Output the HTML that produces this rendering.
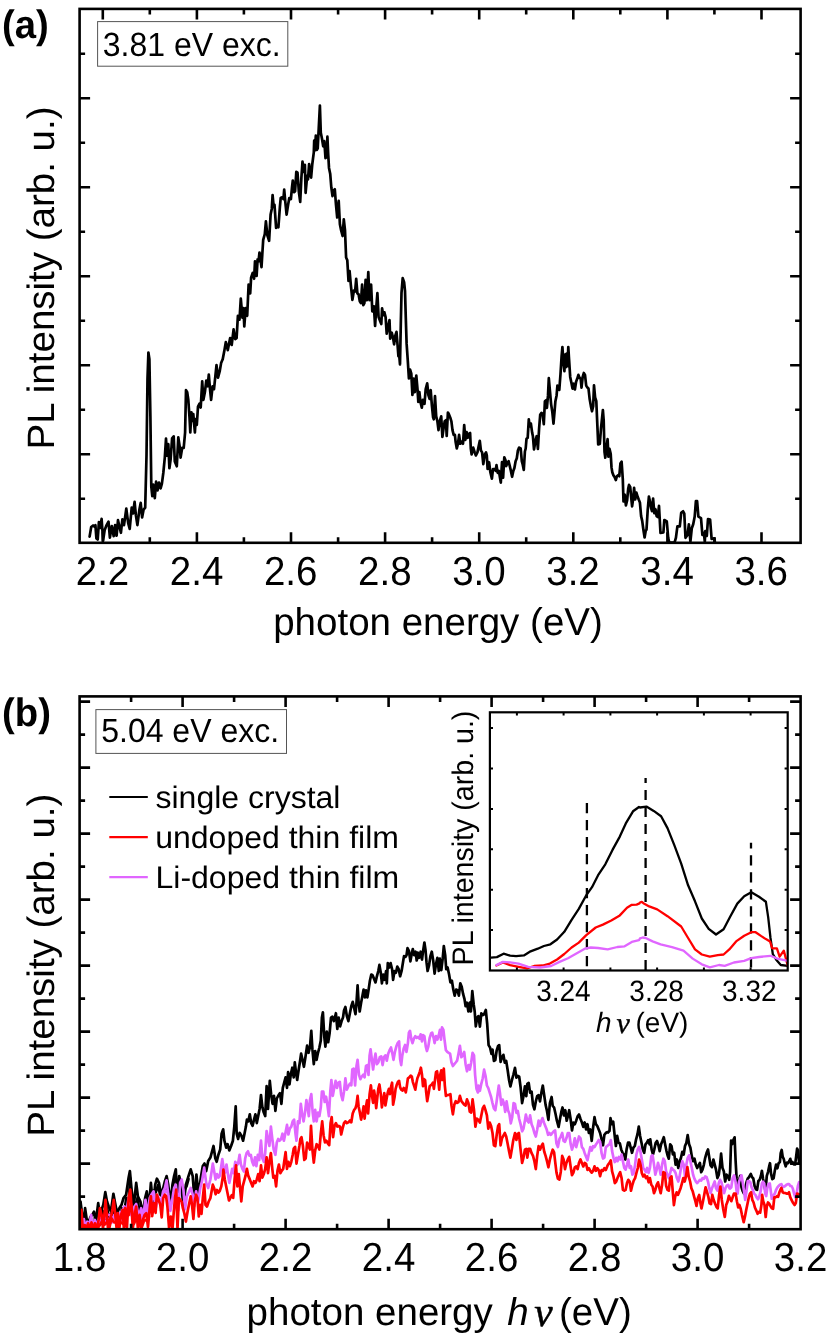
<!DOCTYPE html>
<html><head><meta charset="utf-8"><title>PL spectra</title>
<style>
html,body{margin:0;padding:0;background:#fff;}
svg{display:block;will-change:transform}
text{font-family:"Liberation Sans",sans-serif;fill:#000;text-rendering:geometricPrecision}
.t{font-size:38.5px}
.m{font-size:32px}
.s{font-size:28px}
.b{font-size:38.3px;font-weight:bold}
.i{font-style:italic}
.nu{font-family:"Liberation Serif",serif;font-style:italic}
.ax{stroke:#000;stroke-width:2.6;fill:none;stroke-linecap:butt}
.c{fill:none;stroke-linejoin:round;stroke-linecap:round}
</style></head><body>
<svg width="830" height="1336" viewBox="0 0 830 1336">
<rect width="830" height="1336" fill="#fff"/>
<defs><clipPath id="ca"><rect x="79.6" y="8.9" width="721.0" height="533.9"/></clipPath><clipPath id="cb"><rect x="79.6" y="696.4" width="721.0" height="532.8000000000001"/></clipPath><clipPath id="ci"><rect x="489.9" y="712.3" width="297.80000000000007" height="258.20000000000005"/></clipPath></defs>
<polyline class="c" points="89.6,536.6 91.2,527.0 93.1,525.5 94.5,526.6 95.4,525.1 96.4,538.5 97.7,539.5 98.9,522.2 100.2,528.0 101.6,518.9 103.1,540.5 104.7,529.9 106.6,525.1 108.5,521.6 109.9,537.6 111.8,526.0 113.7,536.2 115.1,525.1 116.6,535.7 118.0,520.2 119.5,527.0 120.9,532.8 122.4,519.3 124.0,525.1 126.3,508.7 128.2,523.1 129.7,528.9 131.7,507.7 133.0,513.5 134.6,501.9 135.9,515.4 137.4,525.1 139.4,509.6 140.7,502.9 142.1,517.4 143.6,509.6 145.2,507.7 146.5,455.7 147.5,378.6 148.4,352.5 149.4,359.3 150.4,417.1 151.3,486.5 152.3,496.1 153.2,484.6 154.8,498.1 156.1,481.7 157.5,490.4 159.0,482.6 160.6,488.4 161.9,483.6 163.3,473.0 164.8,457.6 166.0,438.7 167.1,455.7 168.3,444.1 169.4,468.2 170.6,459.5 172.1,438.3 173.7,436.4 174.8,461.4 176.8,466.3 178.3,437.4 179.9,447.9 180.6,457.6 182.2,447.9 183.7,447.9 185.1,432.5 186.0,390.1 187.2,392.1 188.3,399.8 189.5,417.1 190.3,432.5 191.4,412.3 192.6,421.0 193.3,414.2 194.9,432.5 195.7,419.0 196.8,424.8 198.0,406.5 199.5,403.6 200.7,407.5 202.2,381.4 203.4,399.8 204.9,392.1 206.3,380.5 207.6,386.3 208.8,374.7 210.1,390.1 211.1,399.8 212.6,386.3 214.0,389.2 216.5,365.1 218.0,377.6 219.8,370.8 221.1,363.1 222.7,359.3 224.2,351.6 225.8,342.1 227.8,350.1 230.1,338.2 231.7,345.0 233.6,329.4 235.2,339.1 236.6,338.2 237.9,315.8 239.5,319.7 240.8,298.7 242.4,317.7 243.4,308.0 244.3,326.5 245.7,308.0 247.2,315.8 248.6,284.6 250.2,293.4 251.1,277.8 252.7,273.0 254.1,278.8 255.0,261.3 256.6,275.9 257.6,259.3 258.5,261.3 259.5,252.5 261.5,267.1 263.2,239.9 264.8,234.0 265.9,221.4 267.3,235.0 269.1,240.8 270.6,214.6 271.8,208.7 272.6,195.1 273.7,206.8 274.5,204.8 276.1,227.8 277.4,226.2 278.4,227.2 279.9,206.8 280.7,198.0 282.3,197.1 283.4,199.0 284.2,189.7 285.4,202.9 286.6,214.6 288.1,204.8 289.3,198.0 290.9,199.0 292.0,187.3 292.8,180.5 294.0,192.2 295.1,191.2 296.3,171.8 297.5,172.7 298.8,191.2 300.2,201.9 301.4,177.6 302.5,161.6 303.7,171.8 304.9,164.9 305.6,192.8 307.2,175.6 308.0,179.5 309.1,164.0 311.1,177.6 312.3,164.0 313.8,152.3 314.2,140.6 315.0,150.3 315.8,135.7 316.9,149.9 317.7,148.4 318.7,128.9 319.9,105.6 320.8,132.8 322.0,138.7 323.2,146.4 324.3,141.0 325.5,158.1 326.5,157.2 327.4,136.7 328.2,154.2 329.0,167.9 330.2,173.7 331.3,187.3 332.5,196.1 333.7,190.2 334.8,189.3 336.0,204.8 337.2,217.5 338.7,200.9 339.9,224.3 341.1,230.2 342.6,236.0 343.8,219.4 345.0,230.2 346.1,257.4 347.3,260.3 348.5,280.8 349.6,271.0 350.8,284.6 352.4,299.8 353.9,290.5 355.1,291.5 356.2,278.8 357.4,293.4 358.6,294.4 359.8,301.2 360.9,303.1 362.1,284.6 363.3,305.1 364.4,303.1 365.6,279.8 366.8,300.2 368.3,272.0 369.5,300.2 371.1,284.6 372.3,311.3 373.9,306.4 375.1,325.9 376.2,308.4 377.4,293.2 378.6,317.1 380.1,321.1 381.3,324.0 382.1,308.4 383.2,315.2 384.4,312.3 385.6,317.1 386.7,333.7 387.9,327.9 389.5,320.1 390.2,338.6 391.8,332.7 393.0,337.6 394.1,344.4 395.3,335.6 396.5,331.8 397.6,345.4 398.4,356.1 399.2,355.1 400.0,364.4 400.8,324.0 401.5,292.8 402.7,278.2 404.1,282.1 405.0,290.9 405.8,318.1 406.6,343.4 407.8,360.9 408.9,378.5 410.1,369.7 411.3,373.6 412.4,395.0 413.6,378.5 414.8,392.1 416.3,375.6 417.5,389.2 418.3,401.8 419.4,392.1 420.6,402.8 421.8,407.7 422.9,399.9 424.5,403.8 425.7,389.2 427.2,383.3 428.4,395.0 429.6,398.9 430.7,390.1 431.9,405.7 433.1,417.4 433.8,419.3 435.0,396.0 436.2,416.4 437.4,421.3 438.5,430.1 439.7,421.3 441.2,416.4 442.4,436.9 443.6,428.1 444.7,421.3 445.9,420.3 446.7,435.9 447.9,412.5 449.0,414.5 450.2,417.4 451.4,421.3 452.5,430.1 453.7,434.9 454.9,434.9 455.6,441.7 456.8,448.5 458.0,443.7 459.1,434.9 460.3,443.7 461.5,441.7 463.0,443.7 464.2,425.2 465.4,439.8 466.6,432.0 467.7,437.8 468.9,433.9 470.1,433.0 470.8,448.5 471.6,454.4 473.2,447.6 474.7,452.4 475.9,455.4 477.4,452.4 478.6,446.6 479.8,440.8 480.9,450.5 482.1,452.4 483.3,464.1 484.8,454.4 486.0,452.4 486.8,455.4 487.6,469.0 489.1,462.2 490.3,471.9 491.9,478.7 493.0,469.0 494.6,469.0 495.7,470.9 496.5,465.1 497.7,472.9 498.9,470.9 500.0,477.7 500.8,482.6 502.0,462.2 503.1,477.7 504.3,457.3 505.5,460.2 506.2,466.1 507.4,463.1 508.6,461.2 509.8,466.1 510.9,470.9 512.1,476.8 513.3,470.9 514.4,468.0 515.6,461.2 516.8,458.3 517.9,450.5 519.1,447.6 520.7,448.5 521.8,461.2 522.6,464.1 523.8,469.9 524.9,451.5 525.7,448.5 526.5,438.8 527.7,437.8 528.8,419.3 529.7,426.5 530.9,423.6 532.1,432.4 532.9,436.2 534.0,449.5 535.6,440.1 536.7,436.2 537.9,448.9 539.1,428.5 540.2,414.8 541.4,412.9 542.6,413.9 543.8,424.2 544.9,401.2 546.1,400.2 546.9,408.0 548.0,395.4 548.8,378.2 550.0,391.5 551.1,404.1 552.3,411.9 553.5,423.6 554.6,410.9 555.4,401.2 556.6,395.4 557.4,385.6 558.1,386.6 559.3,389.9 560.5,374.0 561.6,356.4 562.4,347.1 563.6,364.2 564.4,371.1 565.2,354.5 565.9,367.1 566.7,353.5 567.5,366.2 568.3,347.1 569.0,358.4 570.2,376.9 571.4,382.7 572.5,388.6 573.7,383.7 574.9,389.5 576.1,381.8 577.2,378.8 578.4,374.9 579.6,377.9 580.7,378.8 581.5,387.6 582.7,376.9 583.8,373.0 585.0,374.9 586.2,385.6 587.4,387.6 588.5,388.6 589.7,399.3 590.9,406.1 592.0,411.3 593.2,406.1 594.0,385.3 595.1,397.3 596.3,401.2 597.5,428.5 598.2,444.4 599.8,444.0 601.0,428.5 601.8,420.7 602.9,410.0 603.7,420.7 604.5,451.8 605.3,457.7 606.4,447.9 607.6,439.2 608.4,456.7 609.5,448.9 610.7,453.8 611.5,467.4 612.3,472.3 613.4,475.2 614.6,477.1 615.8,480.1 616.9,476.2 618.1,475.2 619.3,476.2 620.4,463.5 621.6,461.6 622.8,479.1 623.5,501.5 624.7,494.6 625.9,505.4 627.1,500.5 628.2,488.8 629.0,484.9 630.2,486.9 631.3,498.5 632.1,506.3 633.3,497.6 634.1,487.8 635.2,499.5 636.4,492.7 637.6,496.6 638.7,499.5 639.9,502.4 641.1,516.1 642.2,520.9 643.4,529.7 644.6,537.5 645.7,530.7 646.5,529.7 647.7,510.2 648.9,496.6 650.0,501.5 651.2,508.3 652.0,511.2 653.1,498.5 654.3,513.1 655.5,509.2 656.6,516.1 657.8,517.0 659.0,505.9 660.5,533.0 663.4,532.5 664.3,520.0 666.8,521.5 668.2,537.8 669.2,542.6 674.5,542.6 675.9,537.8 677.4,526.3 679.8,526.3 681.2,512.8 683.1,511.3 684.3,513.7 685.5,537.8 687.5,534.9 688.9,524.3 690.4,541.7 691.8,528.2 693.2,524.3 694.7,516.6 695.9,501.2 697.1,501.2 698.4,516.6 701.0,518.1 702.4,534.9 703.9,533.0 704.8,541.7 705.3,531.1 706.8,535.9 708.0,519.0 710.1,519.5 711.6,538.8 714.5,538.3 714.9,542.6" stroke="#000" stroke-width="2.7" clip-path="url(#ca)"/>
<rect class="ax" x="79.6" y="8.9" width="721.0" height="533.9"/>
<path class="ax" d="M102.8,542.8v-10.5M102.8,8.9v10.5M196.9,542.8v-10.5M196.9,8.9v10.5M291.0,542.8v-10.5M291.0,8.9v10.5M385.1,542.8v-10.5M385.1,8.9v10.5M479.2,542.8v-10.5M479.2,8.9v10.5M573.3,542.8v-10.5M573.3,8.9v10.5M667.4,542.8v-10.5M667.4,8.9v10.5M761.5,542.8v-10.5M761.5,8.9v10.5M149.8,542.8v-5.5M149.8,8.9v5.5M243.9,542.8v-5.5M243.9,8.9v5.5M338.1,542.8v-5.5M338.1,8.9v5.5M432.1,542.8v-5.5M432.1,8.9v5.5M526.2,542.8v-5.5M526.2,8.9v5.5M620.3,542.8v-5.5M620.3,8.9v5.5M714.4,542.8v-5.5M714.4,8.9v5.5M79.6,498.7h5.5M800.6,498.7h-5.5M79.6,454.2h10.5M800.6,454.2h-10.5M79.6,409.7h5.5M800.6,409.7h-5.5M79.6,365.2h10.5M800.6,365.2h-10.5M79.6,320.7h5.5M800.6,320.7h-5.5M79.6,276.2h10.5M800.6,276.2h-10.5M79.6,231.7h5.5M800.6,231.7h-5.5M79.6,187.2h10.5M800.6,187.2h-10.5M79.6,142.7h5.5M800.6,142.7h-5.5M79.6,98.2h10.5M800.6,98.2h-10.5M79.6,53.7h5.5M800.6,53.7h-5.5"/>
<text class="t" transform="translate(102.5,584.9) scale(1,1.055)" text-anchor="middle">2.2</text>
<text class="t" transform="translate(196.6,584.9) scale(1,1.055)" text-anchor="middle">2.4</text>
<text class="t" transform="translate(290.7,584.9) scale(1,1.055)" text-anchor="middle">2.6</text>
<text class="t" transform="translate(384.8,584.9) scale(1,1.055)" text-anchor="middle">2.8</text>
<text class="t" transform="translate(478.9,584.9) scale(1,1.055)" text-anchor="middle">3.0</text>
<text class="t" transform="translate(573.0,584.9) scale(1,1.055)" text-anchor="middle">3.2</text>
<text class="t" transform="translate(667.1,584.9) scale(1,1.055)" text-anchor="middle">3.4</text>
<text class="t" transform="translate(761.2,584.9) scale(1,1.055)" text-anchor="middle">3.6</text>
<text class="t" transform="translate(438,635.4) scale(1,1.008)" text-anchor="middle">photon energy (eV)</text>
<text class="t" transform="translate(53.6,278) rotate(-90) scale(1,0.99)" text-anchor="middle">PL intensity (arb. u.)</text>
<text class="b" transform="translate(2.0,38.3) scale(1,1.035)">(a)</text>
<rect x="97.6" y="21.6" width="190.2" height="44.6" fill="#fff" stroke="#555" stroke-width="1"/>
<text class="m" transform="translate(102.8,55.5) scale(1,1.05)">3.81 eV exc.</text>
<polyline class="c" points="81.0,1209.5 82.8,1226.0 84.3,1218.5 85.8,1228.2 87.5,1223.8 89.5,1226.7 91.5,1219.7 93.8,1226.0 95.5,1216.2 97.0,1224.0 99.0,1210.6 100.8,1224.1 102.7,1210.9 104.5,1221.4 106.8,1205.1 108.8,1219.1 110.7,1213.8 112.5,1220.1 114.7,1206.5 116.6,1221.7 118.2,1214.6 120.2,1218.8 121.9,1208.2 124.2,1213.0 126.3,1197.9 128.5,1207.5 130.1,1178.0 132.2,1209.6 133.7,1200.9 135.8,1206.4 137.6,1197.5 139.2,1211.3 141.3,1206.4 143.6,1211.0 145.8,1198.6 147.7,1203.2 149.8,1194.5 151.9,1196.2 153.7,1190.7 155.9,1192.2 158.1,1184.8 160.0,1194.5 162.0,1193.0 163.5,1192.9 165.4,1183.1 167.4,1188.0 169.4,1194.9 171.2,1196.9 173.5,1182.8 175.1,1179.8 177.2,1180.9 179.0,1181.2 181.0,1186.5 183.1,1190.9 184.8,1189.2 186.5,1186.3 188.5,1179.1" stroke="#000" stroke-width="2.7" clip-path="url(#cb)"/>
<polyline class="c" points="80.5,1201.5 82.2,1214.9 83.9,1221.9 85.1,1208.2 86.8,1220.0 88.5,1221.9 90.7,1216.6 92.3,1214.9 94.0,1211.6 95.7,1222.3 98.2,1203.1 99.9,1215.3 101.6,1209.9 103.3,1204.8 105.3,1192.2 107.0,1201.5 108.7,1206.5 110.9,1211.4 113.4,1193.8 115.1,1203.1 117.1,1213.2 119.3,1208.2 121.5,1204.8 123.5,1198.1 126.1,1194.7 128.6,1177.8 129.9,1171.1 131.6,1189.6 133.7,1206.7 136.2,1182.9 137.9,1196.4 140.4,1201.5 142.9,1213.9 145.1,1198.1 146.8,1191.3 148.8,1209.8 150.9,1182.9 153.1,1205.7 155.2,1184.6 156.9,1178.7 159.0,1182.9 161.0,1195.5 163.2,1188.0 164.9,1181.2 166.6,1176.1 168.2,1184.6 170.4,1203.4 172.5,1184.6 174.1,1176.1 175.8,1169.4 177.5,1202.0 179.2,1176.1 181.2,1184.6 183.4,1206.1 185.9,1184.6 188.5,1176.1 190.7,1169.4 192.7,1176.1 194.7,1202.6 196.4,1174.5 198.6,1195.2 200.8,1177.8 202.8,1166.0 204.5,1163.5 206.2,1171.1 208.2,1161.0 210.4,1157.6 213.5,1146.0 215.3,1158.3 216.7,1161.8 218.4,1154.8 220.2,1149.5 221.6,1133.7 223.2,1129.3 224.4,1140.7 226.2,1147.7 227.6,1144.2 229.3,1150.4 231.1,1146.0 232.9,1140.7 234.3,1126.6 235.7,1106.4 236.7,1133.7 238.1,1139.0 239.6,1132.8 241.3,1135.4 243.1,1140.7 244.5,1133.7 245.9,1126.6 246.9,1119.6 248.3,1121.4 249.8,1114.3 251.2,1123.1 252.6,1125.8 254.0,1119.6 255.4,1114.3 256.8,1123.1 258.2,1116.1 259.6,1109.0 261.0,1095.0 262.4,1107.3 263.8,1112.6 265.2,1116.1 266.6,1086.2 268.0,1109.0 269.8,1080.9 271.2,1095.0 272.6,1103.8 274.0,1095.8 275.4,1110.8 276.8,1098.5 278.6,1095.0 280.0,1093.2 281.4,1103.8 282.8,1087.9 284.2,1082.7 285.6,1077.4 287.0,1087.9 288.1,1072.1 289.5,1084.4 290.9,1073.9 292.3,1067.7 293.7,1077.4 294.8,1062.4 296.2,1073.9 297.2,1080.0 298.6,1070.3 300.1,1060.7 301.1,1053.6 302.5,1059.8 303.9,1066.8 305.3,1058.0 307.1,1045.7 308.5,1052.8 309.9,1047.5 311.3,1030.8 312.4,1049.2 313.8,1064.2 315.2,1051.0 316.6,1059.8 318.0,1052.8 319.4,1047.5 320.8,1040.5 321.9,1017.6 322.9,1012.3 324.3,1036.9 325.4,1046.6 326.8,1031.7 328.2,1042.2 329.6,1033.4 331.0,1017.6 332.4,1016.7 333.8,1021.1 334.9,1017.6 335.9,1013.2 337.3,1029.0 338.7,1017.6 340.1,1026.4 341.6,1021.1 343.0,1017.6 344.0,1010.5 345.4,1007.0 346.8,1015.8 348.4,1021.1 349.9,1013.2 351.3,1006.2 352.7,1001.8 354.1,1007.9 355.5,1014.1 356.5,1002.7 357.6,985.4 358.6,1002.7 359.7,1011.5 361.1,1002.7 362.5,995.6 363.6,989.5 365.0,997.4 366.0,990.4 367.4,997.4 368.5,990.4 369.9,980.7 371.3,974.5 372.7,975.4 374.1,978.9 375.5,982.4 376.9,976.3 378.3,971.0 379.4,964.9 380.8,972.8 381.9,983.3 383.3,974.5 384.7,979.8 386.1,971.0 386.8,983.3 387.8,963.1 389.2,967.5 390.6,963.1 392.1,969.2 393.1,979.8 394.5,971.0 395.9,972.8 397.3,966.6 398.7,969.2 400.1,976.3 401.6,971.0 403.0,962.2 404.0,956.1 405.4,956.9 406.5,955.2 407.5,948.1 408.9,950.8 410.4,961.3 411.8,953.4 412.8,949.0 414.2,955.2 415.6,951.7 416.7,960.5 417.7,952.5 419.1,957.8 420.6,951.7 422.0,959.6 423.0,951.7 424.4,942.5 425.5,949.9 426.5,962.2 427.6,971.0 429.0,965.7 430.4,956.1 431.8,951.7 433.2,960.5 434.6,973.6 436.0,964.0 437.4,957.8 438.8,971.0 439.9,958.7 441.3,970.1 442.7,958.7 443.8,946.0 445.2,955.2 446.2,969.2 447.6,967.5 449.1,974.5 450.4,982.4 451.9,980.7 453.3,989.5 454.7,995.6 456.1,989.5 457.5,990.4 458.9,995.6 460.3,983.3 461.7,986.8 463.1,993.9 464.5,999.1 465.6,1006.2 467.0,1002.7 468.4,1011.5 469.8,1002.7 470.9,1011.5 472.3,991.2 473.7,1004.4 474.7,1011.5 475.8,1026.4 477.2,1017.6 478.4,1016.1 479.9,1026.6 481.3,1013.4 482.7,1015.2 484.1,1014.3 485.8,1009.9 487.2,1024.0 488.6,1045.1 490.1,1047.7 491.5,1053.9 492.5,1049.5 493.9,1060.9 495.3,1060.0 496.7,1050.3 498.1,1046.0 499.2,1045.1 500.6,1061.8 502.0,1057.4 503.4,1054.8 504.8,1062.7 506.2,1060.9 507.6,1069.7 509.1,1080.2 510.4,1086.4 511.9,1080.2 513.3,1075.0 515.0,1067.9 516.4,1077.6 517.8,1075.8 519.2,1076.7 520.6,1087.3 522.1,1103.1 523.5,1096.1 524.9,1086.4 526.3,1096.1 527.3,1083.8 528.7,1082.9 530.1,1092.6 531.6,1091.7 533.0,1104.9 534.4,1109.3 535.8,1101.4 537.2,1096.1 538.6,1095.2 540.0,1101.4 541.4,1092.6 542.8,1085.5 544.2,1095.2 545.6,1104.9 547.0,1111.0 548.4,1119.8 549.9,1103.1 551.6,1097.0 552.7,1105.8 554.1,1107.5 555.5,1113.7 556.9,1120.7 558.6,1126.9 560.0,1119.0 561.5,1111.0 562.5,1107.5 563.9,1115.4 565.3,1110.2 566.7,1120.7 568.1,1115.4 569.2,1110.2 570.6,1119.0 572.0,1130.4 573.4,1122.5 574.8,1124.2 576.2,1120.7 577.6,1116.3 579.0,1114.5 580.5,1119.0 581.9,1122.5 583.3,1126.9 584.7,1122.5 586.1,1129.5 587.5,1124.2 588.9,1133.0 590.3,1129.5 591.7,1140.9 593.1,1127.7 594.5,1117.2 595.9,1124.2 597.3,1126.0 598.7,1129.5 600.1,1133.0 601.6,1139.2 603.0,1145.3 604.4,1134.8 605.8,1133.0 607.2,1132.1 608.1,1132.5 609.5,1130.8 610.5,1118.2 611.8,1124.1 613.2,1121.6 614.5,1134.2 615.9,1146.0 617.2,1135.9 618.5,1142.7 619.9,1143.5 621.2,1149.4 622.6,1152.8 624.0,1154.5 625.3,1159.5 626.6,1149.4 628.0,1142.7 629.4,1142.7 630.7,1147.7 632.0,1152.8 633.4,1147.7 634.8,1146.0 636.1,1139.3 637.5,1134.2 638.8,1126.6 640.1,1135.9 641.5,1142.7 642.8,1149.4 644.2,1152.8 645.5,1144.3 646.9,1142.7 648.2,1140.1 649.6,1144.3 650.3,1139.3 651.6,1149.4 653.0,1154.5 654.3,1149.4 655.7,1142.7 657.0,1141.0 658.4,1145.2 659.7,1151.1 661.1,1144.3 662.4,1141.0 663.8,1137.2 665.1,1144.3 666.5,1151.1 667.8,1156.1 668.8,1158.7 670.2,1144.3 671.5,1146.0 672.9,1154.5 674.2,1152.8 675.6,1164.6 676.9,1159.5 678.3,1168.0 679.6,1162.0 681.0,1157.8 682.3,1151.9 683.7,1154.5 685.0,1146.0 686.4,1142.7 687.7,1135.1 689.1,1144.3 690.4,1147.7 691.8,1156.1 693.1,1161.2 694.5,1158.7 695.8,1164.6 697.2,1168.0 698.5,1165.4 699.9,1162.9 701.2,1172.2 702.5,1169.6 703.9,1164.6 705.2,1157.8 706.6,1152.8 708.0,1149.4 709.3,1157.8 710.6,1165.4 712.0,1167.1 713.4,1159.5 714.7,1164.6 716.0,1169.6 717.4,1178.1 718.8,1174.7 720.1,1164.6 721.1,1153.6 722.5,1168.0 723.8,1171.3 725.2,1181.5 726.5,1174.7 727.9,1176.4 729.2,1179.8 730.1,1172.1 731.1,1140.5 732.1,1144.3 733.1,1140.5 734.6,1137.3 735.6,1160.7 736.6,1178.4 737.6,1186.0 738.9,1181.0 740.2,1175.9 741.5,1187.3 742.7,1191.1 744.0,1193.6 745.2,1188.5 746.5,1182.2 747.8,1178.4 749.0,1177.2 750.8,1174.0 752.1,1177.2 753.3,1178.4 754.6,1186.0 755.9,1189.2 757.1,1189.8 758.4,1181.0 759.7,1179.7 760.9,1175.9 761.9,1170.8 763.0,1178.4 764.2,1184.8 765.5,1191.1 766.8,1175.9 768.0,1172.1 769.3,1165.8 770.0,1163.2 771.0,1173.4 772.3,1179.1 773.6,1178.4 774.8,1170.8 776.1,1164.5 777.4,1168.3 778.6,1163.2 779.9,1162.0 780.7,1153.1 781.7,1150.0 782.7,1156.9 783.7,1158.8 784.7,1163.2 785.7,1166.4 787.0,1162.6 788.2,1163.2 789.5,1160.7 790.3,1158.8 791.3,1163.2 792.5,1162.0 793.8,1164.5 795.1,1164.5 796.1,1156.9 797.1,1148.7 798.1,1150.6 799.1,1163.2" stroke="#000" stroke-width="2.7" clip-path="url(#cb)"/>
<polyline class="c" points="81.0,1222.2 83.2,1228.3 84.9,1224.8 86.4,1228.3 88.3,1226.8 90.1,1228.3 91.7,1222.7 94.0,1228.3 96.0,1225.3 97.6,1227.4 99.8,1219.5 101.3,1222.5 103.2,1222.9 105.5,1222.3 107.4,1218.5 109.5,1219.7 111.6,1222.7 113.7,1219.6 115.8,1220.3 118.0,1222.0 120.0,1217.2 122.0,1219.8 124.0,1211.6 126.1,1216.2 128.2,1204.2 130.3,1213.0 132.4,1216.5 134.3,1214.7 136.3,1208.2 138.6,1218.7 140.1,1213.3 141.8,1217.9 144.0,1211.2 146.2,1212.2 148.2,1207.3 150.3,1205.9 152.5,1196.3 154.3,1198.9 156.2,1199.7 158.2,1201.6 160.0,1200.7 161.7,1199.3 163.5,1193.8 165.3,1191.0 167.6,1191.9 169.1,1200.7" stroke="#e066ff" stroke-width="2.7" clip-path="url(#cb)"/>
<polyline class="c" points="80.5,1214.9 82.2,1228.5 83.9,1219.2 85.6,1228.5 87.3,1221.7 89.0,1227.6 91.2,1214.9 92.3,1226.6 94.9,1220.0 97.4,1225.1 99.9,1214.9 103.3,1220.0 106.7,1214.9 110.0,1214.9 111.7,1220.0 114.3,1214.9 117.6,1220.0 120.2,1213.2 122.7,1209.9 124.4,1206.5 126.1,1213.2 128.6,1198.1 132.0,1214.9 134.5,1206.5 136.2,1204.0 138.7,1216.3 141.2,1208.2 142.9,1218.6 145.5,1199.8 147.2,1215.5 149.7,1198.1 151.4,1194.7 153.6,1191.3 155.6,1208.5 158.1,1196.4 160.7,1203.8 163.2,1191.3 164.9,1188.0 166.6,1180.4 168.2,1194.7 170.4,1210.8 172.5,1198.1 174.1,1188.0 175.8,1184.6 178.4,1210.1 180.1,1182.9 181.7,1179.5 183.4,1189.6 185.1,1209.4 186.8,1196.4 188.5,1193.0 190.7,1188.0 192.7,1194.7 194.4,1206.0 196.1,1191.3 198.1,1202.3 200.3,1188.0 202.0,1181.2 204.2,1167.7 206.2,1182.9 208.2,1188.0 210.4,1179.5 212.8,1163.6 214.2,1171.5 215.6,1179.4 217.0,1174.1 218.4,1177.6 219.8,1175.9 220.9,1168.8 222.3,1159.2 223.7,1168.8 225.1,1172.4 226.5,1164.5 227.9,1174.1 229.3,1182.9 230.8,1175.9 232.2,1168.8 233.6,1173.2 235.3,1161.8 236.7,1165.3 238.1,1163.6 239.6,1154.8 240.9,1164.5 242.4,1168.8 243.8,1171.5 245.2,1158.3 246.6,1153.0 248.0,1151.3 249.4,1155.7 250.8,1154.8 252.2,1161.8 253.6,1165.3 255.0,1157.4 256.4,1166.2 257.8,1154.8 259.2,1160.0 261.0,1140.7 262.4,1158.3 263.8,1161.8 265.2,1153.0 266.6,1131.0 268.0,1139.0 269.4,1146.0 270.9,1126.6 272.3,1139.0 273.7,1149.5 275.4,1154.8 276.8,1142.5 278.2,1139.0 279.6,1140.7 281.1,1139.0 282.5,1133.7 283.9,1140.7 285.3,1133.7 287.0,1124.9 288.4,1134.5 289.9,1128.4 291.3,1126.6 292.7,1121.4 294.1,1119.6 295.5,1133.7 296.5,1140.7 297.9,1121.4 299.4,1123.1 300.8,1103.8 302.2,1114.3 303.6,1121.4 305.0,1112.6 306.4,1100.2 307.8,1109.0 308.8,1116.1 309.9,1100.2 311.3,1094.1 312.7,1112.6 313.8,1121.4 315.2,1109.9 316.6,1121.4 318.0,1112.6 319.4,1116.1 320.8,1107.3 321.9,1091.5 323.3,1091.5 324.7,1102.0 326.1,1096.7 327.5,1105.5 328.9,1116.1 330.3,1091.5 331.4,1080.0 332.8,1095.8 334.2,1087.9 335.6,1080.9 337.0,1087.9 338.4,1082.7 339.8,1081.8 341.2,1095.0 342.6,1100.2 344.0,1091.5 345.4,1078.3 346.8,1089.7 348.4,1086.2 349.9,1083.6 351.3,1085.3 352.3,1069.5 353.7,1068.6 355.1,1085.3 356.5,1066.0 357.6,1059.8 359.0,1074.8 360.4,1079.2 361.8,1076.5 363.2,1074.8 364.6,1077.4 366.0,1066.0 367.4,1065.1 368.5,1074.8 369.6,1055.4 370.6,1049.3 372.0,1060.7 373.1,1069.5 374.5,1059.0 375.5,1053.7 376.9,1064.2 378.3,1062.5 379.8,1057.2 381.2,1056.3 382.6,1065.1 384.0,1057.2 385.4,1055.4 386.8,1060.7 388.2,1053.7 389.6,1050.2 391.0,1047.5 392.4,1053.7 393.5,1059.8 394.9,1051.9 396.3,1046.6 397.7,1043.1 399.1,1041.4 400.1,1059.0 401.2,1065.1 402.3,1055.4 403.7,1048.4 405.1,1044.9 406.5,1051.9 407.9,1043.1 408.9,1032.6 410.0,1030.8 411.4,1039.6 412.5,1043.1 413.9,1038.7 415.3,1036.1 416.7,1037.8 418.1,1037.0 419.5,1038.7 420.6,1034.3 422.0,1041.4 423.0,1035.2 424.4,1036.1 425.8,1046.6 426.9,1051.0 428.3,1046.6 429.7,1037.8 431.1,1033.4 432.2,1032.6 433.6,1037.8 434.6,1043.1 436.0,1036.1 437.4,1039.6 438.8,1035.2 439.9,1029.9 441.0,1039.6 442.0,1027.3 443.4,1029.9 444.5,1039.6 445.9,1050.2 447.3,1051.9 448.7,1052.8 450.1,1053.7 451.5,1062.5 452.9,1066.0 454.3,1064.2 455.7,1062.5 457.1,1060.7 458.5,1053.7 459.9,1045.8 461.4,1057.2 462.8,1055.4 464.2,1051.9 465.6,1064.2 467.0,1071.3 468.4,1065.1 469.8,1069.5 471.2,1062.5 472.6,1052.8 474.0,1055.4 475.1,1074.8 476.5,1088.8 477.9,1092.4 478.4,1085.5 479.9,1090.8 481.3,1083.8 482.7,1078.5 484.1,1069.7 485.5,1075.8 486.9,1085.5 488.3,1088.2 489.7,1092.6 491.1,1097.0 492.5,1103.1 493.9,1108.4 495.3,1110.2 496.4,1103.1 497.8,1092.6 498.8,1085.5 499.9,1092.6 501.3,1104.9 502.7,1099.6 504.1,1104.0 505.2,1111.9 506.6,1101.4 508.0,1110.2 509.4,1113.7 510.8,1123.3 512.2,1117.2 513.6,1103.1 515.0,1104.0 516.4,1112.8 517.8,1111.0 519.2,1119.0 520.6,1124.2 522.1,1131.3 523.5,1128.6 524.9,1120.7 525.9,1114.5 527.3,1120.7 528.7,1122.5 530.1,1115.4 531.6,1124.2 533.0,1127.7 534.4,1133.0 535.8,1136.5 537.2,1129.5 538.6,1120.7 540.0,1126.0 541.4,1120.7 542.5,1118.1 543.9,1122.5 545.3,1126.0 546.7,1129.5 548.1,1134.8 549.5,1133.0 550.9,1134.8 552.3,1133.0 553.7,1131.3 555.1,1130.4 556.5,1143.6 557.9,1147.1 559.4,1139.2 560.8,1136.5 562.2,1133.0 563.6,1140.9 565.0,1141.8 566.4,1138.3 567.8,1133.0 569.2,1133.0 570.6,1143.6 572.0,1149.7 573.4,1145.3 574.8,1138.3 576.2,1147.1 577.6,1141.8 579.0,1136.5 580.5,1138.3 581.9,1147.1 583.3,1148.8 584.7,1153.2 586.1,1156.8 587.5,1160.3 588.9,1153.2 590.3,1147.1 591.7,1150.6 593.1,1146.2 594.5,1147.1 595.9,1144.5 597.3,1142.7 598.7,1140.0 600.1,1141.8 601.6,1153.2 603.0,1158.5 604.4,1157.6 605.8,1147.1 607.2,1146.2 608.1,1145.2 609.5,1144.3 610.8,1140.1 612.1,1151.1 613.5,1157.8 614.8,1162.0 616.2,1157.8 617.5,1161.2 618.9,1157.0 620.2,1159.5 621.6,1154.5 622.9,1161.2 624.3,1168.0 625.6,1169.6 627.0,1164.6 628.3,1159.5 629.7,1168.0 631.0,1166.3 632.4,1174.7 633.7,1173.0 635.1,1164.6 636.4,1154.5 637.8,1149.4 639.1,1146.9 640.5,1151.9 641.8,1159.5 643.2,1168.0 644.5,1169.6 645.9,1172.2 647.2,1168.0 648.6,1173.0 649.9,1168.0 651.3,1156.1 652.6,1155.3 654.0,1164.6 655.3,1174.7 656.7,1169.6 658.0,1162.9 659.4,1168.0 660.7,1174.7 662.1,1164.6 663.4,1158.7 664.8,1161.2 666.1,1171.3 667.5,1174.7 668.8,1178.1 670.2,1173.0 671.5,1168.0 672.9,1169.6 674.2,1170.5 675.6,1173.0 676.9,1178.1 678.3,1181.5 679.6,1176.4 681.0,1168.0 682.3,1161.2 683.7,1164.6 685.0,1176.4 686.4,1164.6 687.7,1157.8 689.1,1155.3 690.4,1161.2 691.8,1168.0 693.1,1174.7 694.5,1178.9 695.8,1181.5 697.2,1183.1 698.5,1181.5 699.9,1179.8 701.2,1180.6 702.5,1178.1 703.9,1178.9 705.2,1176.4 706.6,1177.2 708.0,1181.5 709.3,1188.2 710.6,1193.2 712.0,1188.2 713.4,1184.8 714.7,1181.5 716.0,1188.2 717.4,1190.7 718.8,1183.1 720.1,1179.8 721.5,1182.3 722.8,1188.2 724.1,1193.2 725.5,1188.2 726.8,1185.7 728.2,1184.8 729.5,1188.2 730.1,1188.5 731.3,1187.3 732.6,1178.4 734.1,1175.3 735.6,1182.2 736.6,1191.1 737.6,1193.6 738.9,1182.2 740.2,1178.4 741.5,1175.3 742.7,1182.2 744.0,1191.1 745.2,1199.9 746.5,1191.1 747.8,1181.0 749.0,1181.0 750.3,1182.2 751.6,1187.3 752.8,1189.8 754.1,1193.6 755.4,1194.9 756.6,1197.4 758.1,1199.3 759.4,1196.1 760.7,1191.1 761.9,1183.5 763.0,1181.6 764.2,1183.5 765.2,1193.6 766.2,1196.1 767.2,1188.5 768.5,1184.1 769.8,1183.5 770.8,1191.1 771.8,1198.7 772.8,1196.1 773.8,1194.9 774.8,1193.6 776.1,1189.8 777.4,1187.3 778.6,1186.0 779.9,1184.8 781.4,1184.1 782.7,1187.3 784.0,1186.7 785.2,1186.0 786.5,1184.8 787.8,1184.1 789.0,1184.1 790.3,1186.0 791.5,1186.0 792.8,1188.5 794.1,1193.6 795.3,1197.4 796.6,1193.6 797.9,1186.0 799.1,1182.2" stroke="#e066ff" stroke-width="2.7" clip-path="url(#cb)"/>
<polyline class="c" points="81.0,1221.9 83.8,1228.3 86.0,1228.3 88.8,1228.2 91.4,1225.9 94.1,1228.1 96.7,1228.3 99.0,1226.4 101.9,1221.3 104.8,1224.5 107.2,1221.6 109.3,1228.3 111.5,1218.3 113.8,1222.1 115.9,1222.6 118.2,1226.0 120.5,1222.0 123.0,1223.8 125.9,1216.5 128.8,1215.0 131.0,1204.0 134.0,1223.8 136.9,1216.5 139.3,1220.8 141.4,1228.3 144.1,1220.6 146.9,1219.9 149.1,1216.8" stroke="#ff0000" stroke-width="2.7" clip-path="url(#cb)"/>
<polyline class="c" points="80.5,1228.4 81.4,1209.9 82.7,1228.5 84.8,1225.1 86.4,1228.5 88.1,1223.4 89.8,1228.5 91.5,1222.5 93.2,1228.5 94.9,1223.4 96.9,1228.5 98.6,1220.0 99.9,1208.2 101.6,1214.9 103.0,1228.5 104.7,1211.6 105.5,1199.8 106.7,1213.2 108.0,1228.5 109.7,1220.0 111.4,1214.9 112.6,1208.2 113.8,1199.8 115.1,1213.2 116.5,1227.3 117.8,1213.2 119.3,1228.5 121.0,1214.9 122.7,1209.9 123.9,1228.5 125.2,1208.2 126.9,1228.5 128.6,1198.1 130.3,1189.6 131.6,1208.2 132.8,1228.5 134.5,1214.9 136.2,1206.5 137.9,1228.5 139.6,1214.9 141.2,1228.5 142.9,1220.0 144.6,1214.9 146.3,1213.2 148.0,1227.0 149.7,1208.2 150.9,1196.4 152.2,1216.2 153.9,1203.1 155.6,1212.8 156.9,1194.7 158.6,1199.8 160.3,1204.8 161.7,1217.4 163.2,1198.1 164.9,1194.7 166.1,1196.4 167.4,1206.5 169.1,1228.5 170.8,1216.6 172.5,1228.5 173.8,1211.6 175.0,1198.1 176.2,1189.6 177.5,1228.5 178.9,1198.1 180.2,1199.8 181.6,1201.5 182.9,1208.2 184.3,1213.2 185.9,1221.6 187.6,1211.6 189.3,1203.1 190.7,1196.4 192.0,1204.8 193.4,1218.9 194.7,1201.5 196.1,1194.7 197.4,1198.1 198.8,1216.5 200.1,1204.8 201.5,1213.9 202.8,1198.1 204.2,1184.6 205.5,1204.8 207.0,1206.5 208.7,1201.5 210.4,1198.1 212.8,1184.7 214.2,1188.2 215.6,1194.3 217.0,1190.0 218.4,1192.6 219.8,1190.8 221.3,1186.4 222.7,1177.6 223.4,1169.7 224.8,1179.4 226.2,1186.4 227.6,1193.5 229.0,1200.5 230.4,1197.9 231.8,1195.2 233.2,1197.9 234.6,1179.4 236.0,1165.3 237.4,1186.4 238.8,1174.1 239.9,1186.4 241.3,1201.4 242.7,1186.4 244.1,1181.2 245.5,1175.9 246.9,1168.8 248.3,1175.9 249.8,1179.4 251.2,1182.9 252.6,1186.4 254.0,1181.2 255.4,1182.9 256.8,1179.4 258.2,1174.1 259.6,1181.2 261.0,1165.3 262.4,1177.6 263.8,1174.1 265.2,1168.8 266.6,1157.4 268.0,1173.2 269.4,1161.8 270.9,1153.0 272.3,1168.8 273.3,1177.6 274.7,1175.9 276.1,1186.4 277.5,1170.6 278.9,1164.5 280.4,1173.2 281.8,1170.6 283.2,1168.8 284.2,1161.8 285.6,1152.1 287.0,1168.8 288.4,1161.8 289.9,1166.2 291.3,1161.8 292.7,1154.8 293.7,1148.6 295.1,1146.9 296.5,1163.6 297.9,1154.8 299.4,1146.0 300.4,1139.0 301.5,1137.2 302.9,1146.0 304.3,1160.0 305.7,1158.3 307.1,1142.5 308.5,1146.0 309.9,1149.5 311.0,1125.8 312.4,1149.5 313.8,1162.7 315.2,1150.4 316.6,1144.2 318.0,1146.0 319.4,1149.5 320.8,1133.7 322.2,1121.4 323.6,1135.4 325.0,1142.5 326.4,1140.7 327.8,1143.3 329.2,1145.1 330.6,1123.1 331.7,1117.0 333.1,1137.2 334.5,1125.8 335.9,1123.1 337.3,1126.6 338.7,1125.8 340.1,1126.6 341.2,1134.5 342.6,1128.4 344.0,1123.1 345.4,1121.4 346.8,1123.1 348.4,1122.3 349.9,1120.5 351.3,1122.3 352.7,1113.5 354.1,1110.0 355.5,1108.2 356.5,1104.7 357.6,1095.9 358.6,1106.4 359.7,1111.7 361.1,1119.6 362.5,1113.5 363.6,1106.4 364.6,1118.7 366.0,1106.4 367.1,1100.3 368.1,1113.5 369.6,1094.1 370.9,1085.3 372.0,1095.9 373.1,1102.9 374.1,1090.6 375.2,1097.6 376.2,1108.2 377.3,1097.6 378.3,1088.8 379.4,1084.5 380.8,1094.1 381.9,1107.3 383.3,1099.4 384.3,1093.2 385.4,1105.5 386.8,1097.6 387.8,1092.4 388.9,1088.8 389.9,1094.1 391.0,1087.1 392.1,1082.7 393.1,1104.7 394.5,1097.6 395.6,1088.8 396.6,1085.3 398.0,1081.8 399.1,1080.9 400.1,1087.1 401.2,1089.7 402.6,1090.6 403.7,1088.0 404.7,1088.8 405.8,1092.4 406.8,1086.2 407.9,1078.3 409.3,1077.4 410.7,1075.7 411.8,1076.5 412.8,1081.8 414.2,1086.2 415.3,1089.7 416.3,1083.6 417.4,1078.3 418.8,1074.8 419.9,1071.3 420.9,1067.7 422.0,1074.8 423.0,1086.2 424.1,1079.2 425.1,1080.0 426.2,1092.4 427.2,1101.2 428.6,1093.2 429.7,1086.2 430.8,1085.3 431.8,1084.5 432.9,1082.7 433.9,1088.8 435.0,1080.0 436.0,1072.1 437.1,1071.3 438.1,1079.2 439.2,1089.7 440.2,1074.8 441.3,1070.4 442.4,1080.0 443.8,1068.6 444.8,1085.3 445.9,1095.9 447.3,1095.0 448.7,1095.0 450.4,1094.1 451.5,1105.5 452.9,1114.3 454.3,1104.7 455.7,1101.2 457.1,1102.9 458.5,1102.0 459.9,1095.9 461.4,1101.2 462.8,1102.9 464.2,1104.7 465.6,1105.5 467.0,1099.4 468.4,1102.9 469.8,1111.7 471.2,1112.6 472.6,1099.4 474.0,1110.0 475.4,1126.7 476.8,1118.7 478.4,1119.8 479.9,1122.5 481.3,1115.4 482.7,1108.4 484.1,1105.8 485.5,1110.2 486.9,1115.4 488.3,1128.6 489.7,1122.5 491.1,1126.0 492.5,1133.0 493.9,1145.3 495.3,1146.2 496.7,1134.8 498.1,1126.0 499.2,1124.2 500.6,1145.3 502.0,1138.3 503.4,1135.7 504.8,1133.0 506.2,1136.5 507.6,1143.6 509.1,1151.5 510.4,1157.6 511.9,1148.8 513.3,1140.0 515.0,1133.0 516.4,1140.0 517.8,1133.9 518.9,1133.0 520.3,1147.1 522.1,1162.9 523.5,1157.6 524.9,1149.7 526.3,1148.8 527.3,1157.6 528.7,1148.8 530.1,1148.8 531.6,1153.2 533.0,1155.9 534.4,1161.2 535.8,1169.1 537.2,1155.9 538.6,1146.2 540.0,1149.7 541.4,1146.2 542.8,1143.6 544.2,1151.5 545.6,1155.9 547.0,1161.2 548.4,1167.3 549.9,1159.4 551.3,1154.1 552.7,1149.7 554.1,1152.4 555.1,1161.2 556.5,1172.6 557.9,1178.7 559.4,1179.6 560.8,1171.7 562.2,1155.9 563.6,1159.4 565.0,1169.1 566.4,1162.9 567.8,1159.4 569.2,1156.8 570.6,1166.4 572.0,1175.2 573.4,1172.6 574.8,1167.3 576.2,1166.4 577.6,1169.1 579.0,1162.9 580.5,1159.4 581.9,1162.9 583.3,1166.4 584.7,1162.9 586.1,1163.8 587.5,1170.0 588.9,1168.2 590.3,1170.8 591.7,1172.6 593.1,1170.8 594.5,1166.4 595.9,1170.8 597.3,1168.2 598.7,1170.0 600.1,1176.1 601.6,1170.0 603.0,1170.8 604.4,1168.2 605.8,1170.0 607.2,1166.4 608.1,1164.6 609.5,1162.9 610.8,1160.4 612.1,1171.3 613.5,1176.4 614.8,1183.1 616.2,1181.5 617.5,1178.1 618.9,1174.7 620.2,1172.2 621.6,1178.1 622.9,1189.9 624.3,1190.7 625.6,1189.9 627.0,1183.1 628.3,1179.8 629.7,1181.5 631.0,1190.7 632.4,1184.8 633.7,1180.6 635.1,1178.1 636.4,1173.0 637.8,1168.0 639.1,1159.5 640.5,1164.6 641.8,1173.0 643.2,1176.4 644.5,1174.7 645.9,1178.1 647.2,1176.4 648.6,1182.3 649.9,1178.1 651.3,1184.8 652.6,1186.5 654.0,1193.2 655.3,1189.9 656.7,1184.8 658.0,1182.3 659.4,1188.2 660.7,1193.2 662.1,1184.8 663.4,1172.2 664.8,1173.0 666.1,1185.7 667.5,1189.9 668.8,1190.7 670.2,1178.1 671.5,1176.4 672.9,1193.2 673.9,1205.1 675.2,1196.6 676.6,1192.4 677.9,1194.9 679.3,1191.6 680.6,1188.2 682.0,1183.1 683.3,1178.1 684.7,1181.5 686.0,1176.4 687.4,1167.1 688.7,1176.4 690.1,1181.5 691.4,1188.2 692.8,1191.6 694.1,1196.6 695.5,1201.7 696.5,1205.9 697.8,1198.3 699.2,1194.9 700.5,1203.4 701.5,1208.4 702.9,1201.7 704.2,1194.9 705.6,1187.3 706.9,1191.6 708.3,1196.6 709.6,1203.4 711.0,1204.2 712.3,1194.9 713.7,1200.0 715.0,1203.4 716.4,1206.8 717.7,1208.4 719.1,1194.9 720.4,1186.5 721.8,1200.0 723.1,1208.4 724.8,1216.9 726.2,1205.1 727.5,1201.7 728.9,1195.8 730.1,1198.7 731.3,1201.2 732.6,1197.4 733.9,1193.6 735.6,1193.6 736.9,1201.2 738.2,1207.5 739.4,1205.0 740.7,1208.8 742.0,1215.1 743.7,1222.1 745.0,1216.4 746.2,1210.1 747.5,1203.7 748.8,1197.4 750.0,1193.6 751.1,1192.3 752.3,1199.9 753.6,1202.5 754.9,1207.5 756.1,1210.1 757.6,1213.8 758.9,1212.0 760.2,1212.6 761.4,1205.0 762.2,1194.9 763.2,1201.2 764.5,1205.0 765.7,1217.0 766.8,1206.3 768.0,1202.5 769.3,1203.7 770.5,1206.3 771.8,1208.2 773.1,1208.8 774.3,1197.4 775.6,1197.4 776.9,1196.1 778.1,1196.8 779.4,1192.3 780.7,1189.2 781.4,1187.9 782.7,1192.3 784.0,1193.0 785.2,1193.0 786.5,1193.6 787.8,1193.6 789.0,1192.3 790.3,1197.4 791.5,1199.9 792.8,1202.5 794.6,1205.0 795.8,1203.1 797.1,1193.6 799.1,1194.2" stroke="#ff0000" stroke-width="2.7" clip-path="url(#cb)"/>
<rect class="ax" x="79.6" y="696.4" width="721.0" height="532.8000000000001"/>
<path class="ax" d="M131.1,1229.2v-5.5M131.1,696.4v5.5M182.6,1229.2v-10.5M182.6,696.4v10.5M234.1,1229.2v-5.5M234.1,696.4v5.5M285.6,1229.2v-10.5M285.6,696.4v10.5M337.1,1229.2v-5.5M337.1,696.4v5.5M388.6,1229.2v-10.5M388.6,696.4v10.5M440.1,1229.2v-5.5M440.1,696.4v5.5M491.6,1229.2v-10.5M491.6,696.4v10.5M543.1,1229.2v-5.5M543.1,696.4v5.5M594.6,1229.2v-10.5M594.6,696.4v10.5M646.1,1229.2v-5.5M646.1,696.4v5.5M697.6,1229.2v-10.5M697.6,696.4v10.5M749.1,1229.2v-5.5M749.1,696.4v5.5M79.6,701.6h10.5M800.6,701.6h-10.5M79.6,734.6h5.5M800.6,734.6h-5.5M79.6,767.6h10.5M800.6,767.6h-10.5M79.6,800.6h5.5M800.6,800.6h-5.5M79.6,833.6h10.5M800.6,833.6h-10.5M79.6,866.6h5.5M800.6,866.6h-5.5M79.6,899.6h10.5M800.6,899.6h-10.5M79.6,932.6h5.5M800.6,932.6h-5.5M79.6,965.6h10.5M800.6,965.6h-10.5M79.6,998.6h5.5M800.6,998.6h-5.5M79.6,1031.6h10.5M800.6,1031.6h-10.5M79.6,1064.6h5.5M800.6,1064.6h-5.5M79.6,1097.6h10.5M800.6,1097.6h-10.5M79.6,1130.6h5.5M800.6,1130.6h-5.5M79.6,1163.6h10.5M800.6,1163.6h-10.5M79.6,1196.6h5.5M800.6,1196.6h-5.5"/>
<text class="t" transform="translate(79.6,1271.0) scale(1,1.055)" text-anchor="middle">1.8</text>
<text class="t" transform="translate(182.6,1271.0) scale(1,1.055)" text-anchor="middle">2.0</text>
<text class="t" transform="translate(285.6,1271.0) scale(1,1.055)" text-anchor="middle">2.2</text>
<text class="t" transform="translate(388.6,1271.0) scale(1,1.055)" text-anchor="middle">2.4</text>
<text class="t" transform="translate(491.6,1271.0) scale(1,1.055)" text-anchor="middle">2.6</text>
<text class="t" transform="translate(594.6,1271.0) scale(1,1.055)" text-anchor="middle">2.8</text>
<text class="t" transform="translate(697.6,1271.0) scale(1,1.055)" text-anchor="middle">3.0</text>
<text class="t" transform="translate(800.6,1271.0) scale(1,1.055)" text-anchor="middle">3.2</text>
<text class="t" transform="translate(246.6,1324.9) scale(1,1.008)">photon energy</text>
<text class="t i" transform="translate(507.3,1324.9) scale(1,1.008)">h</text>
<text class="t nu" transform="translate(534.3,1326)" style="font-size:41.5px" stroke="#000" stroke-width="0.5">ν</text>
<text class="t" transform="translate(559,1324.9) scale(1,1.008)">(eV)</text>
<text class="t" transform="translate(53.6,965.2) rotate(-90) scale(1,0.99)" text-anchor="middle">PL intensity (arb. u.)</text>
<text class="b" transform="translate(2.0,725.5) scale(1,1.035)">(b)</text>
<rect x="95.9" y="709.6" width="190.6" height="43.8" fill="#fff" stroke="#555" stroke-width="1"/>
<text class="m" transform="translate(101.2,741.6) scale(1,1.05)">5.04 eV exc.</text>
<path d="M109.3,797.0H147.8" stroke="#000" stroke-width="2.2"/>
<text class="m" transform="translate(155.5,807.9) scale(1,0.975)">single crystal</text>
<path d="M109.3,837.1H147.8" stroke="#ff0000" stroke-width="2.2"/>
<text class="m" transform="translate(155.2,848.0) scale(1,0.975)">undoped thin film</text>
<path d="M109.3,877.2H147.8" stroke="#e066ff" stroke-width="2.2"/>
<text class="m" transform="translate(155.5,888.2) scale(1,0.975)">Li-doped thin film</text>
<rect x="489.9" y="712.3" width="297.80000000000007" height="258.20000000000005" fill="#fff" stroke="none"/>
<path d="M586.9,803V970.5" stroke="#000" stroke-width="2.3" stroke-dasharray="10.2 6.8" fill="none"/>
<path d="M645.6,777.9V970.5" stroke="#000" stroke-width="2.3" stroke-dasharray="10.2 6.8" fill="none" stroke-dashoffset="5"/>
<path d="M751,842.7V970.5" stroke="#000" stroke-width="2.3" stroke-dasharray="10.2 6.8" fill="none" stroke-dashoffset="4.4"/>
<polyline class="c" points="491.1,957.6 496.9,957.1 503.6,953.7 510.1,955.7 516.1,956.1 523.9,955.4 530.6,951.3 537.8,948.7 543.9,946.0 550.4,944.3 557.1,939.5 564.3,931.8 571.6,919.8 578.8,908.9 586.0,895.7 592.0,887.2 598.1,875.2 605.3,864.3 612.5,849.9 619.8,836.6 625.8,823.4 633.0,811.3 639.0,807.0 640.0,807.5 646.4,806.6 653.7,810.9 661.1,816.2 667.5,828.1 674.3,845.2 681.2,863.6 688.1,885.3 695.0,901.3 701.8,918.5 708.7,928.8 716.0,934.5 723.6,929.3 730.4,916.2 737.3,903.6 744.2,896.3 751.3,892.2 759.0,896.8 765.9,901.8 768.2,917.4 770.5,938.0 772.8,954.0 776.2,959.7 780.8,965.0 787.7,965.9" stroke="#000" stroke-width="2.3" clip-path="url(#ci)"/>
<polyline class="c" points="496.4,965.5 502.9,962.4 510.1,965.1 518.5,966.8 527.0,968.4 534.2,966.0 542.6,965.5 549.9,963.6 557.1,959.5 564.3,954.0 571.6,947.5 578.8,942.6 586.0,935.4 595.7,927.5 602.9,924.6 611.3,920.5 619.8,915.4 627.0,907.7 631.8,904.8 636.6,904.6 639.5,903.4 640.0,902.5 641.8,901.8 643.4,903.2 649.2,906.4 657.2,909.4 667.5,916.2 681.2,926.5 688.1,938.0 695.0,949.4 701.8,954.5 709.8,956.7 717.8,955.1 723.6,954.5 729.3,949.4 736.1,941.4 744.2,935.7 751.3,932.2 755.6,932.2 761.3,936.1 765.9,939.1 770.0,941.4 772.3,948.3 776.9,948.3 779.6,956.7 783.8,950.6 786.5,960.9 787.7,965.4" stroke="#ff0000" stroke-width="2.3" clip-path="url(#ci)"/>
<polyline class="c" points="496.4,965.1 502.9,961.9 510.1,962.4 518.5,963.6 528.2,966.8 540.2,967.5 551.1,966.0 559.5,961.9 568.0,958.3 576.4,953.5 584.8,948.7 590.8,947.5 598.1,948.0 607.7,949.4 617.4,947.0 624.6,946.3 631.8,941.9 639.0,940.2 640.0,938.4 642.8,937.5 645.7,938.0 652.6,941.4 660.6,944.4 672.0,947.1 683.5,950.6 692.7,958.6 701.8,964.3 709.8,967.3 719.0,965.0 724.7,965.9 733.9,962.5 744.2,960.9 751.3,958.1 759.0,957.0 770.5,955.8 777.4,958.6 787.7,960.9" stroke="#e066ff" stroke-width="2.3" clip-path="url(#ci)"/>
<rect x="489.9" y="712.3" width="297.80000000000007" height="258.20000000000005" fill="none" stroke="#000" stroke-width="2.2"/>
<path d="M750.6,970.5v-3.1M750.6,712.3v3.1M703.9,970.5v-3.1M703.9,712.3v3.1M657.1,970.5v-3.1M657.1,712.3v3.1M610.4,970.5v-3.1M610.4,712.3v3.1M563.6,970.5v-3.1M563.6,712.3v3.1M516.9,970.5v-3.1M516.9,712.3v3.1M489.9,930.1h3.1M787.7,930.1h-3.1M489.9,889.7h3.1M787.7,889.7h-3.1M489.9,849.3h3.1M787.7,849.3h-3.1M489.9,808.9h3.1M787.7,808.9h-3.1M489.9,768.5h3.1M787.7,768.5h-3.1M489.9,728.1h3.1M787.7,728.1h-3.1" stroke="#000" stroke-width="2" fill="none"/>
<text class="s" transform="translate(563.4,1001.2) scale(1,1.055)" text-anchor="middle">3.24</text>
<text class="s" transform="translate(656.6,1001.2) scale(1,1.055)" text-anchor="middle">3.28</text>
<text class="s" transform="translate(749.3,1001.2) scale(1,1.055)" text-anchor="middle">3.32</text>
<text class="s i" transform="translate(596,1032.2)">h</text>
<text class="s nu" transform="translate(616.6,1032.6)" style="font-size:30px" stroke="#000" stroke-width="0.4">ν</text>
<text class="s" transform="translate(635.5,1032.2)">(eV)</text>
<text class="s" transform="translate(472.6,838.0) rotate(-90) scale(1,1.04)" text-anchor="middle" style="font-size:28.6px">PL intensity (arb. u.)</text>
</svg></body></html>
